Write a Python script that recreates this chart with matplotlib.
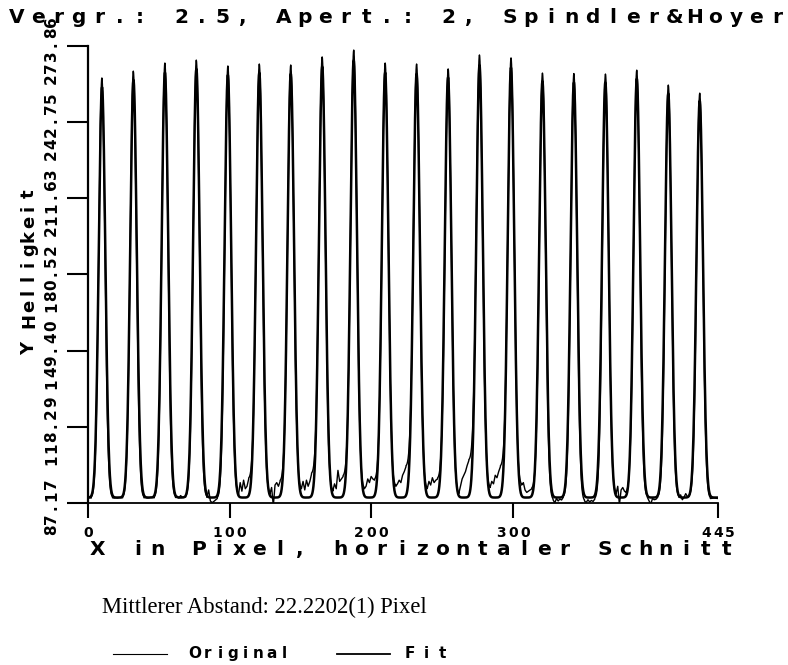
import numpy as np
import matplotlib
matplotlib.use('Agg')
import matplotlib.pyplot as plt
import matplotlib.transforms as mtransforms
from matplotlib.lines import Line2D

W, H = 788, 665

# axis ranges and tick labels
x_ticks = [0, 100, 200, 300, 445]
x_ticklabels = ['0', '100', '200', '300', '445']
y_ticks = [87.17, 118.29, 149.40, 180.52, 211.63, 242.75, 273.86]
y_ticklabels = ['87.17', '118.29', '149.40', '180.52', '211.63', '242.75', '273.86']

# fit result: first line position and mean spacing
fit_x0 = 9.9
fit_spacing = 22.2202
fit_base = 89.4
fit_sigma = 2.3
fit_top = [257.0, 260.0, 263.0, 264.5, 262.0, 263.0, 262.5, 265.5, 268.0, 263.0,
           262.5, 261.0, 266.0, 265.0, 259.5, 259.0, 259.0, 260.5, 254.5, 251.5]

# measured trace: line centres, line tops, valley levels between the lines
orig_center = [9.8, 32.0, 54.3, 76.5, 98.8, 121.0, 143.2, 165.4, 187.7, 209.9,
               232.1, 254.4, 276.5, 298.8, 321.0, 343.2, 365.5, 387.6, 409.9, 432.1]
orig_top = [260.8, 263.6, 266.9, 268.1, 265.7, 266.5, 266.1, 269.4, 272.2, 266.9,
            266.5, 264.5, 270.2, 269.0, 262.8, 262.6, 262.4, 264.0, 257.9, 254.6]
orig_sigma = 2.15
valley_levels = [
    [89.2, 89.3, 89.2],
    [89.3, 89.2, 89.3, 89.2, 89.4, 89.3, 89.3],
    [89.3, 89.4, 89.2, 89.3, 89.5, 89.4, 89.3],
    [89.4, 89.9, 89.2, 90.2, 89.5, 89.7, 89.6],
    [89.5, 92.5, 88.0, 87.3, 87.8, 88.4, 89.0],
    [90.5, 95.5, 92.0, 96.5, 93.0, 94.0, 97.0],
    [91.0, 93.5, 86.0, 94.5, 95.5, 94.0, 96.0],
    [93.0, 96.0, 92.5, 96.5, 94.0, 96.0, 99.0],
    [92.0, 95.0, 93.0, 100.5, 96.0, 97.0, 98.0],
    [93.0, 94.0, 97.0, 95.5, 98.0, 97.0, 96.5],
    [94.0, 95.0, 96.5, 95.5, 98.5, 100.0, 102.0],
    [93.0, 96.0, 94.5, 97.5, 95.5, 96.5, 97.0],
    [91.0, 94.0, 97.0, 98.5, 100.0, 102.5, 104.5],
    [93.5, 96.0, 95.0, 98.5, 97.5, 100.0, 102.0],
    [94.5, 95.5, 92.5, 91.5, 92.0, 92.5, 93.0],
    [88.5, 87.2, 89.0, 88.0, 88.8, 88.4, 89.5],
    [88.0, 87.4, 88.5, 87.6, 88.2, 87.8, 88.8],
    [91.0, 94.0, 86.5, 92.5, 93.5, 92.0, 91.5],
    [89.5, 88.0, 86.8, 89.0, 88.5, 88.7, 89.5],
    [89.5, 90.5, 88.5, 89.5, 91.0, 89.8, 90.0],
    [89.0, 89.2, 89.0],
]

x_max = 445.0
half = 7.5

# measured trace: valley points joined to gaussian-shaped lines
ox, oy = [], []
for k in range(len(orig_center) + 1):
    lo = 0.0 if k == 0 else orig_center[k - 1] + half
    hi = x_max if k == len(orig_center) else orig_center[k] - half
    lv = valley_levels[k]
    ox.extend(np.linspace(lo, hi, len(lv)))
    oy.extend(lv)
    if k == len(orig_center):
        break
    c, top = orig_center[k], orig_top[k]
    bl, br = valley_levels[k][-1], valley_levels[k + 1][0]
    xp = np.linspace(c - half, c + half, 81)
    g = np.exp(-(xp - c) ** 2 / (2 * orig_sigma ** 2))
    yp = np.where(xp < c, bl + (top - bl) * g, br + (top - br) * g)
    ox.extend(xp)
    oy.extend(yp)

# fitted curve
fit_center = fit_x0 + fit_spacing * np.arange(len(fit_top))
xf = np.linspace(0, x_max, 4000)
yf = np.full_like(xf, fit_base)
for c, top in zip(fit_center, fit_top):
    yf += (top - fit_base) * np.exp(-(xf - c) ** 2 / (2 * fit_sigma ** 2))

fig = plt.figure(figsize=(W / 100, H / 100), dpi=100)
ax = fig.add_axes([88 / W, 1 - 503 / H, 630 / W, 457 / H])

ax.plot(ox, oy, color='black', lw=1.0, solid_joinstyle='round')
ax.plot(xf, yf, color='black', lw=1.8)

ax.set_xlim(0, x_max)
ax.set_ylim(y_ticks[0], y_ticks[-1])
ax.set_xticks(x_ticks)
ax.set_yticks(y_ticks)
ax.tick_params(labelleft=False, labelbottom=False)
ax.tick_params(axis='y', direction='out', length=15, width=1.5)
ax.tick_params(axis='x', direction='out', length=11, width=1.5)
for s in ['top', 'right']:
    ax.spines[s].set_visible(False)
ax.spines['left'].set_linewidth(1.6)
ax.spines['bottom'].set_linewidth(1.3)

# plotter style lettering: one glyph per fixed step
pix = mtransforms.Affine2D().scale(1 / W, -1 / H).translate(0, 1) + fig.transFigure


def plotter_text(trans, x, y, s, pitch, size, vertical=False, centered=False,
                 weight='bold'):
    n = len(s)
    for i, ch in enumerate(s):
        if ch == ' ':
            continue
        step = (i - (n - 1) / 2) * pitch if centered else i * pitch
        dx, dy = (0, step) if vertical else (step, 0)
        t = mtransforms.offset_copy(trans, fig=fig, x=dx, y=dy, units='dots')
        fig.text(x, y, ch, transform=t, fontsize=size, fontweight=weight,
                 family='DejaVu Sans', rotation=90 if vertical else 0,
                 rotation_mode='anchor', ha='center', va='baseline')


plotter_text(pix, 17, 23, 'Vergr.: 2.5, Apert.: 2, Spindler&Hoyer', 20.54, 14.5)
plotter_text(pix, 97, 555, 'X in Pixel, horizontaler Schnitt', 20.3, 14.5)
plotter_text(pix, 34, 348, 'Y Helligkeit', 14, 13, vertical=True)

ytr = mtransforms.blended_transform_factory(ax.transAxes, ax.transData)
for v, lab in zip(y_ticks, y_ticklabels):
    t = mtransforms.offset_copy(ytr, fig=fig, x=-32, y=-4, units='dots')
    plotter_text(t, 0, v, lab, 11.5, 11, vertical=True, centered=True)

xtr = mtransforms.blended_transform_factory(ax.transData, ax.transAxes)
for v, lab in zip(x_ticks, x_ticklabels):
    t = mtransforms.offset_copy(xtr, fig=fig, x=0, y=-34, units='dots')
    plotter_text(t, v, 0, lab, 12, 10, centered=True)

fig.text(102 / W, 1 - 613 / H, 'Mittlerer Abstand: 22.2202(1) Pixel',
         family='Liberation Serif', fontsize=16.3, ha='left', va='baseline')

# legend
fig.add_artist(Line2D([113 / W, 167 / W], [1 - 654 / H] * 2, color='black', lw=0.8))
fig.add_artist(Line2D([337 / W, 390 / W], [1 - 654 / H] * 2, color='black', lw=1.3))
plotter_text(pix, 195, 658, 'Original', 12.7, 11)
plotter_text(pix, 410, 658, 'Fit', 16, 11)

fig.savefig('out.png', dpi=100)
